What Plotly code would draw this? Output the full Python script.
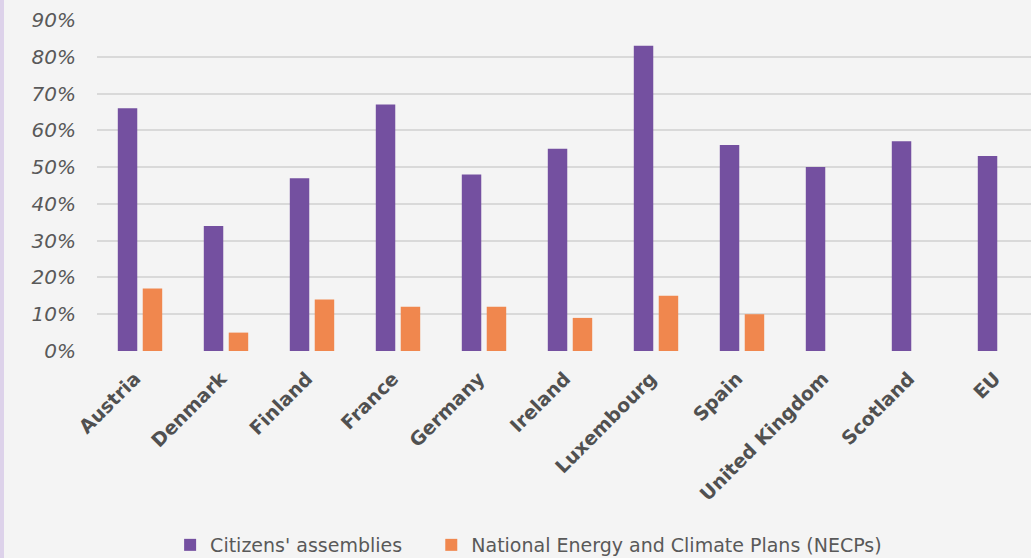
import plotly.graph_objects as go

categories = ["Austria", "Denmark", "Finland", "France", "Germany", "Ireland",
              "Luxembourg", "Spain", "United Kingdom", "Scotland", "EU"]
citizens = [66, 34, 47, 67, 48, 55, 83, 56, 50, 57, 53]
necps = [17, 5, 14, 12, 12, 9, 15, 10, None, None, None]
y_ticks = [0, 10, 20, 30, 40, 50, 60, 70, 80, 90]
y_labels = [f"{v}%" for v in y_ticks]

W, H = 1031, 558
L, R, T, B = 97, 0, 20, 207

fig = go.Figure()
fig.add_trace(go.Bar(x=categories, y=citizens, name="Citizens' assemblies\u00a0\u00a0\u00a0\u00a0",
                     marker=dict(color="#7450a0", line=dict(width=0))))
fig.add_trace(go.Bar(x=categories, y=necps, name="National Energy and Climate Plans (NECPs)",
                     marker=dict(color="#f0874e", line=dict(width=0))))

plot_w = W - L - R
plot_h = H - T - B
fig.update_layout(
    width=W, height=H,
    margin=dict(l=L, r=R, t=T, b=B, autoexpand=False),
    paper_bgcolor="#f4f4f4", plot_bgcolor="#f4f4f4",
    barmode="group", bargap=0.42, bargroupgap=0.22,
    font=dict(family="DejaVu Sans", color="#595959"),
    showlegend=True,
    legend=dict(orientation="h", xref="container", yref="paper",
                x=0.165, y=(351 - 545) / plot_h, xanchor="left", yanchor="middle",
                font=dict(size=19, color="#595959"), itemwidth=30,
                bgcolor="rgba(0,0,0,0)"),
    xaxis=dict(range=[-0.5, -0.5 + plot_w / 86.0], tickangle=-45,
               tickfont=dict(size=19, weight="bold", color="#505050"),
               showgrid=False, zeroline=False, showline=False,
               ticks="outside", ticklen=8, tickcolor="rgba(0,0,0,0)",
               ticklabelshift=-5),
    yaxis=dict(range=[0, 90], tickvals=y_ticks, ticktext=y_labels,
               tickfont=dict(size=20, style="italic", color="#595959"),
               showgrid=True, gridcolor="#d9d9d9", gridwidth=1.5,
               zeroline=False, ticks="", ticklabelstandoff=20),
    shapes=[dict(type="rect", xref="paper", yref="paper",
                 x0=-L / plot_w, x1=-(L - 4) / plot_w, y0=-B / plot_h, y1=T / plot_h + 1,
                 fillcolor="#ddd2ea", line=dict(width=0), layer="above")],
)

fig.write_html("out.html")
